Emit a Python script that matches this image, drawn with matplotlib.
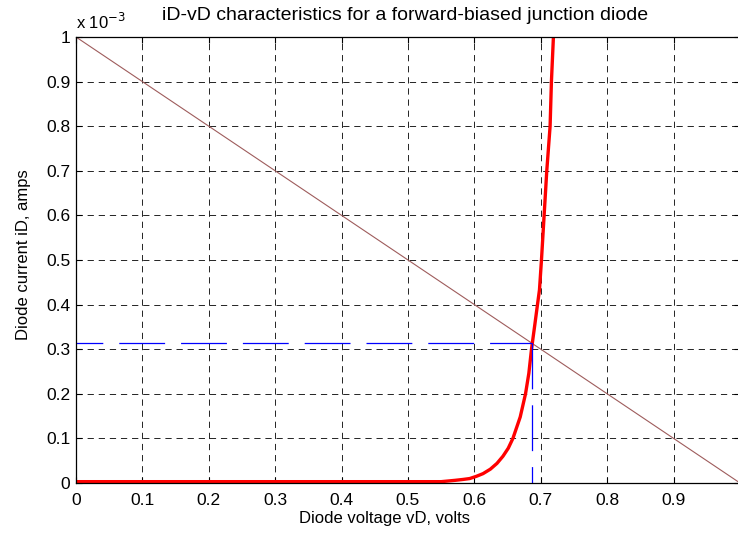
import numpy as np
import matplotlib.pyplot as plt

plt.rcParams['font.family'] = ['Liberation Sans', 'DejaVu Sans']
plt.rcParams['lines.scale_dashes'] = False

# Diode curve (volts, mA)
v_diode = [0.0, 0.55, 0.571, 0.583, 0.593, 0.603, 0.613, 0.624, 0.634, 0.643,
           0.651, 0.658, 0.669, 0.677, 0.682, 0.686, 0.691, 0.695, 0.698,
           0.701, 0.705, 0.709, 0.714, 0.716, 0.719]
i_diode = [0.003, 0.003, 0.006, 0.008, 0.010, 0.015, 0.021, 0.031, 0.044, 0.060,
           0.078, 0.1, 0.148, 0.2, 0.246, 0.3, 0.355, 0.4, 0.433,
           0.5, 0.6, 0.7, 0.8, 0.9, 1.0]

# Load line (volts, mA)
v_load = [0.0, 1.0]
i_load = [1.0, 0.0]

# Operating point
v_q = 0.687
i_q = 0.313

x_ticks = [0, 0.1, 0.2, 0.3, 0.4, 0.5, 0.6, 0.7, 0.8, 0.9]
y_ticks = [0, 0.1, 0.2, 0.3, 0.4, 0.5, 0.6, 0.7, 0.8, 0.9, 1.0]

fig = plt.figure(figsize=(7.38, 5.39), dpi=100)
ax = fig.add_axes([76 / 738, 56 / 539, 664 / 738, 446 / 539])

ax.plot(np.array(v_load), np.array(i_load) * 1e-3, color='#9e5c5c', lw=0.8)
ax.plot(np.array(v_diode), np.array(i_diode) * 1e-3, color='red', lw=2.4,
        solid_joinstyle='round')
# dashed guides to the operating point
ax.plot([0, v_q], [i_q * 1e-3, i_q * 1e-3], color='blue', lw=0.9,
        linestyle=(13.7, (33, 11.5)))
ax.plot([v_q, v_q], [i_q * 1e-3, 0], color='blue', lw=0.9,
        linestyle=(0, (33, 11.5)))

ax.set_xlim(0, 1)
ax.set_ylim(0, 1e-3)
ax.set_xticks(x_ticks)
ax.set_xticklabels(['%g' % t for t in x_ticks])
ax.set_yticks(np.array(y_ticks) * 1e-3)
ax.set_yticklabels(['%g' % t for t in y_ticks])

ax.grid(True, color='black', lw=0.6, linestyle=(0, (4.5, 3.5)))
ax.tick_params(direction='in', length=4, top=True, right=True, labelsize=12.5)
ax.tick_params(axis='x', pad=7.5)
ax.tick_params(axis='y', pad=4)
for s in ax.spines.values():
    s.set_linewidth(0.9)

ax.text(0.0, 1.012, r'x 10$^{-3}$', transform=ax.transAxes, fontsize=12,
        ha='left', va='bottom')
fig.text(405 / 738, 1 - 20 / 539,
         'iD-vD characteristics for a forward-biased junction diode',
         fontsize=14, ha='center', va='baseline')
ax.set_xlabel('Diode voltage vD, volts', fontsize=12)
ax.xaxis.set_label_coords((385 - 76) / 664, -28 / 446)
ax.set_ylabel('Diode current iD, amps', fontsize=12)
ax.yaxis.set_label_coords((31 - 76) / 664, 0.513)

fig.savefig('out.png', dpi=100)
